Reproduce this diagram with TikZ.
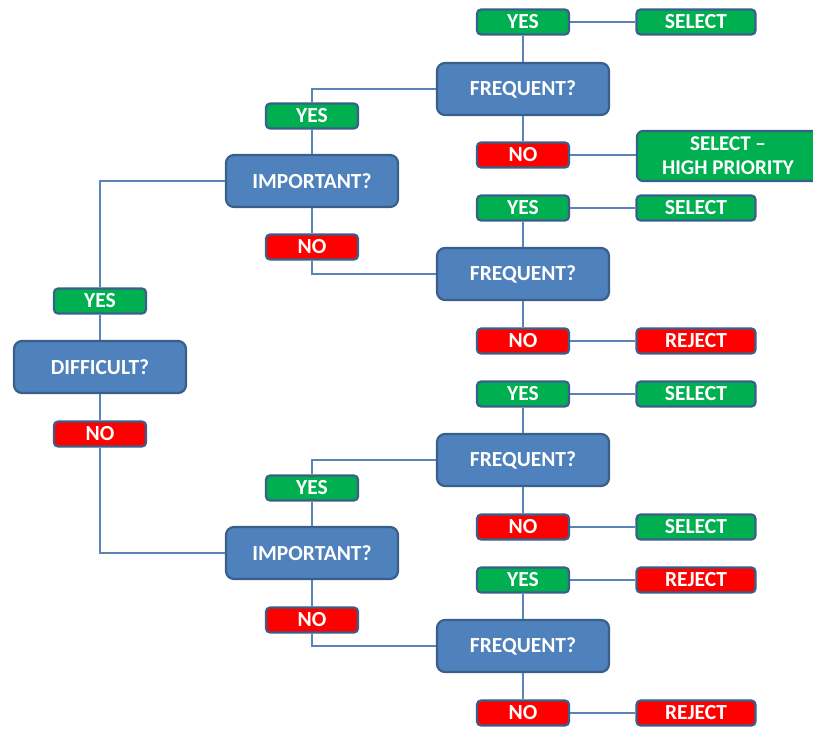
\documentclass[tikz,border=0pt]{standalone}
\usepackage{fontspec}
\setmainfont{Carlito}
\usetikzlibrary{positioning}
\definecolor{cask}{HTML}{4F81BD}
\definecolor{cedge}{HTML}{3A5F8A}
\definecolor{cyes}{HTML}{00B050}
\definecolor{cno}{HTML}{FF0000}
\definecolor{cline}{HTML}{5A84B8}

\begin{document}
\begin{tikzpicture}[
    x=1pt, y=-1pt,
    box/.style={draw=cedge, line width=2.2pt, text=white, inner sep=0pt, align=center,
      font=\fontsize{21.5}{24}\selectfont\bfseries},
    ask/.style={box, fill=cask, rounded corners=8pt, minimum width=172pt, minimum height=52pt},
    yesbox/.style={box, fill=cyes, rounded corners=4pt, minimum width=92pt, minimum height=25pt},
    nobox/.style={box, fill=cno, rounded corners=4pt, minimum width=92pt, minimum height=25pt},
    selbox/.style={yesbox, minimum width=119pt},
    rejbox/.style={nobox, minimum width=119pt},
    link/.style={draw=cline, line width=1.3pt},
  ]
  \useasboundingbox (0,0) rectangle (813,729);
  % first question
  \node[ask] (diff) at (100,367) {DIFFICULT?};
  \node[yesbox] (diffyes) at (100,301) {YES};
  \node[nobox] (diffno) at (100,434) {NO};
  % important, both branches
  \node[ask] (impa) at (312,181) {IMPORTANT?};
  \node[yesbox] (impayes) at (312,116) {YES};
  \node[nobox] (impano) at (312,247) {NO};
  \node[ask] (impb) at (312,553) {IMPORTANT?};
  \node[yesbox] (impbyes) at (312,488) {YES};
  \node[nobox] (impbno) at (312,620) {NO};
  % frequent, four times
  \node[ask] (freqa) at (523,89) {FREQUENT?};
  \node[yesbox] (freqayes) at (523,22) {YES};
  \node[nobox] (freqano) at (523,155) {NO};
  \node[ask] (freqb) at (523,274) {FREQUENT?};
  \node[yesbox] (freqbyes) at (523,208) {YES};
  \node[nobox] (freqbno) at (523,341) {NO};
  \node[ask] (freqc) at (523,460) {FREQUENT?};
  \node[yesbox] (freqcyes) at (523,394) {YES};
  \node[nobox] (freqcno) at (523,527) {NO};
  \node[ask] (freqd) at (523,646) {FREQUENT?};
  \node[yesbox] (freqdyes) at (523,580) {YES};
  \node[nobox] (freqdno) at (523,713) {NO};
  % outcomes
  \node[selbox] (outa) at (696,22) {SELECT};
  \node[box, fill=cyes, rounded corners=6pt, minimum width=182pt, minimum height=50pt,
    font=\fontsize{21}{24}\selectfont\bfseries] (outb) at (728,156) {SELECT --\\HIGH PRIORITY};
  \node[selbox] (outc) at (696,208) {SELECT};
  \node[rejbox] (outd) at (696,341) {REJECT};
  \node[selbox] (oute) at (696,394) {SELECT};
  \node[selbox] (outf) at (696,527) {SELECT};
  \node[rejbox] (outg) at (696,580) {REJECT};
  \node[rejbox] (outh) at (696,713) {REJECT};
  % connectors
  \draw[link] (diffyes) -- (diff) -- (diffno);
  \draw[link] (diffyes.north) |- (impa.west);
  \draw[link] (diffno.south) |- (impb.west);
  \draw[link] (impayes) -- (impa) -- (impano);
  \draw[link] (impbyes) -- (impb) -- (impbno);
  \draw[link] (impayes.north) |- (freqa.west);
  \draw[link] (impano.south) |- (freqb.west);
  \draw[link] (impbyes.north) |- (freqc.west);
  \draw[link] (impbno.south) |- (freqd.west);
  \draw[link] (freqayes) -- (freqa) -- (freqano);
  \draw[link] (freqbyes) -- (freqb) -- (freqbno);
  \draw[link] (freqcyes) -- (freqc) -- (freqcno);
  \draw[link] (freqdyes) -- (freqd) -- (freqdno);
  \draw[link] (freqayes) -- (outa);
  \draw[link] (freqano) -- (outb.west |- freqano);
  \draw[link] (freqbyes) -- (outc);
  \draw[link] (freqbno) -- (outd);
  \draw[link] (freqcyes) -- (oute);
  \draw[link] (freqcno) -- (outf);
  \draw[link] (freqdyes) -- (outg);
  \draw[link] (freqdno) -- (outh);
\end{tikzpicture}
\end{document}
